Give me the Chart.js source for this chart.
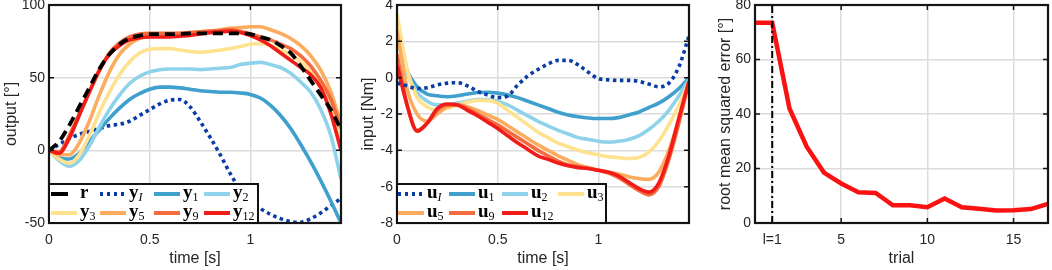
<!DOCTYPE html>
<html>
<head>
<meta charset="utf-8">
<script src="https://cdn.jsdelivr.net/npm/chart.js@4"></script>
<style>
html, body { margin: 0; padding: 0; background: #fff; }
#wrap { position: relative; width: 1052px; height: 270px; overflow: hidden; }
canvas { position: absolute; top: 0; }
.leg { position: absolute; border: 2px solid #111; background: #fff; box-sizing: border-box; font-family: "Liberation Serif", "DejaVu Serif", serif; }
.leg .ln { position: absolute; }
.leg .tx { position: absolute; font-weight: bold; font-size: 19px; line-height: 19px; color: #000; white-space: nowrap; }
.leg sub { font-size: 12px; font-weight: normal; vertical-align: baseline; position: relative; top: 3px; }
</style>
</head>
<body>
<div id="wrap">
  <canvas id="c1" width="345" height="270" style="left:0px"></canvas>
  <canvas id="c2" width="336" height="270" style="left:357px"></canvas>
  <canvas id="c3" width="338" height="270" style="left:714px"></canvas>
</div>
<script>
// valeurs (sortie, entrée, erreur)
const tOut = [0,0.05,0.1,0.15,0.2,0.25,0.3,0.35,0.4,0.45,0.5,0.55,0.6,0.65,0.7,0.75,0.8,0.85,0.9,0.95,1.0,1.05,1.1,1.15,1.2,1.25,1.3,1.35,1.4,1.45];

const r   = [0,6,17,30,43,56,66,73,77,79,80,80,80,80,80.5,80.5,80.5,80.5,80.5,80.5,80,78,76,72,67,58,48,38,28,14];
const yI  = [0,4,8,11,13,15,17,18,20,24,28,32,34.5,35,30,20,9,-3,-16,-27,-34,-40,-44,-47,-49,-49.5,-47,-43,-38,-33];
const y1  = [0,-5,-6,-2,6,14,22,29,35,39,42,43.5,43.5,43,42,41,40.5,40,40,39.5,38.5,36,31,24,15,4,-8,-21,-35,-50];
const y2  = [0,-7,-11,-7,3,16,28,38,46,51,54,55.5,56,56,56,55.5,56,56.5,57,59,60,60.5,59,57,53,47,40,28,10,-20];
const y3  = [0,-6,-9,-3,10,26,40,52,61,67,69.5,70,70,69,68,67.5,68,69,70,71.5,73,73.5,72,69.5,66,61,54,45,30,5];
const y5  = [0,-3,-3,5,20,38,54,66,73,77,79,79.5,80,80.5,81,81.5,82,83,84,84.5,85,85,83,80.5,77,72,65,55,40,18];
const y9  = [0,-1,10,25,40,55,67,74,78,80,80.5,80.5,80.5,80.5,81,81.5,82,82.5,83,82,80,78,76,73,70,65,58,48,35,15];
const y12 = [0,-2,8,24,40,55,66,72,76,77.5,78,78,78,78.5,79,80,81,81.5,82,81,79,76,72,67,62,57,52,43,25,0];

const uI  = [-0.3,-0.45,-0.6,-0.55,-0.4,-0.3,-0.28,-0.45,-0.75,-0.95,-1.1,-1.0,-0.4,0.1,0.45,0.75,0.95,0.95,0.7,0.3,-0.05,-0.12,-0.15,-0.15,-0.2,-0.35,-0.5,-0.3,0.6,2.3];
const u1  = [2.5,0.4,-0.5,-0.9,-1.0,-1.05,-1.0,-0.9,-0.82,-0.8,-0.85,-0.95,-1.1,-1.3,-1.5,-1.7,-1.9,-2.05,-2.15,-2.22,-2.25,-2.25,-2.2,-2.05,-1.9,-1.65,-1.4,-1.05,-0.6,0];
const u2  = [2.8,0.3,-0.8,-1.3,-1.5,-1.5,-1.4,-1.3,-1.2,-1.2,-1.3,-1.5,-1.8,-2.1,-2.4,-2.65,-2.9,-3.1,-3.3,-3.4,-3.5,-3.55,-3.5,-3.4,-3.2,-2.85,-2.4,-1.8,-1.0,-0.1];
const u3  = [3.5,0.5,-1.1,-1.6,-1.8,-1.7,-1.5,-1.35,-1.25,-1.25,-1.4,-1.8,-2.2,-2.6,-3.0,-3.3,-3.6,-3.8,-4.0,-4.15,-4.25,-4.35,-4.4,-4.45,-4.4,-4.1,-3.5,-2.6,-1.5,-0.2];
const u5  = [2.6,-0.6,-2.0,-2.4,-2.0,-1.6,-1.5,-1.6,-1.8,-2.05,-2.3,-2.65,-3.0,-3.35,-3.7,-4.0,-4.3,-4.55,-4.8,-4.95,-5.1,-5.2,-5.3,-5.45,-5.55,-5.6,-5.2,-4.0,-2.3,-0.2];
const u9  = [1.3,-1.5,-2.9,-2.5,-1.8,-1.5,-1.5,-1.7,-2.0,-2.3,-2.6,-2.95,-3.3,-3.65,-4.0,-4.3,-4.6,-4.8,-4.9,-5.0,-5.1,-5.25,-5.5,-5.85,-6.2,-6.45,-6.0,-4.5,-2.5,-0.2];
const u12 = [0.7,-1.5,-2.95,-2.5,-1.7,-1.45,-1.5,-1.8,-2.1,-2.45,-2.8,-3.2,-3.6,-3.95,-4.3,-4.5,-4.7,-4.85,-4.95,-5.0,-5.1,-5.2,-5.4,-5.75,-6.1,-6.3,-5.8,-4.3,-2.2,-0.2];

const trials = [0,1,2,3,4,5,6,7,8,9,10,11,12,13,14,15,16,17];
const rmse   = [73.5,73.5,42,28,18.5,14.5,11.3,11,6.5,6.5,5.8,9,5.8,5.2,4.6,4.7,5.1,7];
const startTrial = [1,1];
const startSpan  = [0,80];

const tTicks = [0,0.5,1];
const outTicks = [-50,0,50,100];
const inTicks = [-8,-6,-4,-2,0,2,4];
const errTicks = [0,20,40,60,80];
const trialTicks = [1,5,10,15];
const trialTickLabels = ['l=1','5','10','15'];

const colI = '#0a3ca6', col1 = '#3f9fcd', col2 = '#8fd3eb', col3 = '#fee28f';
const col5 = '#fcac5e', col9 = '#f46b40', col12 = '#f01c18';

Chart.defaults.font.family = '"Liberation Sans", Arial, sans-serif';
Chart.defaults.color = '#262626';

function pts(xs, ys) {
  return xs.map((x, i) => ({ x: x, y: ys[i] }));
}

function curve(data, color, extra) {
  return Object.assign({
    data: data, borderColor: color, borderWidth: 3.6, pointRadius: 0,
    cubicInterpolationMode: 'monotone', fill: false
  }, extra || {});
}

// cadre noir + petites graduations vers l'intérieur
const frame = {
  id: 'frame',
  afterDraw(chart) {
    const ctx = chart.ctx, a = chart.chartArea, sx = chart.scales.x, sy = chart.scales.y;
    ctx.save();
    ctx.strokeStyle = '#151515';
    ctx.lineWidth = 1.5;
    ctx.beginPath();
    sx.ticks.forEach(t => {
      const p = sx.getPixelForValue(t.value);
      ctx.moveTo(p, a.bottom); ctx.lineTo(p, a.bottom - 5);
      ctx.moveTo(p, a.top); ctx.lineTo(p, a.top + 5);
    });
    sy.ticks.forEach(t => {
      const p = sy.getPixelForValue(t.value);
      ctx.moveTo(a.left, p); ctx.lineTo(a.left + 5, p);
      ctx.moveTo(a.right, p); ctx.lineTo(a.right - 5, p);
    });
    ctx.stroke();
    ctx.lineWidth = 2.2;
    ctx.strokeRect(a.left, a.top, a.right - a.left, a.bottom - a.top);
    ctx.restore();
  }
};

function makeOptions(xMin, xMax, xTicks, xLabels, yMin, yMax, yTicks, yTitle, yWidth) {
  return {
    responsive: false,
    animation: false,
    layout: { padding: { left: 0, right: 4, top: 5, bottom: 0 } },
    plugins: { legend: { display: false }, tooltip: { enabled: false } },
    scales: {
      x: {
        type: 'linear', min: xMin, max: xMax,
        afterBuildTicks: s => { s.ticks = xTicks.map(v => ({ value: v })); },
        afterFit: s => { s.height = 47; s.paddingLeft = 0; s.paddingRight = 0; },
        grid: { color: '#dcdcdc', lineWidth: 1.5, drawTicks: false },
        border: { display: false },
        ticks: {
          padding: 9, font: { size: 14 }, color: '#262626', maxRotation: 0,
          callback: (v, i) => xLabels ? xLabels[i] : v
        },
        title: { display: true, text: 'time [s]', font: { size: 16 }, color: '#262626', padding: { top: 0, bottom: 2 } }
      },
      y: {
        type: 'linear', min: yMin, max: yMax,
        afterBuildTicks: s => { s.ticks = yTicks.map(v => ({ value: v })); },
        afterFit: s => { s.width = yWidth; s.paddingTop = 0; s.paddingBottom = 0; },
        grid: { color: '#dcdcdc', lineWidth: 1.5, drawTicks: false },
        border: { display: false },
        ticks: { padding: 4, font: { size: 14 }, color: '#262626' },
        title: { display: true, text: yTitle, font: { size: 16 }, color: '#262626', padding: { top: 2, bottom: 0 } }
      }
    }
  };
}

// sortie
new Chart(document.getElementById('c1'), {
  type: 'line',
  data: {
    datasets: [
      curve(pts(tOut, r), '#000', { borderDash: [10, 6], borderWidth: 3.8 }),
      curve(pts(tOut, y12), col12),
      curve(pts(tOut, y9), col9),
      curve(pts(tOut, y5), col5),
      curve(pts(tOut, y3), col3),
      curve(pts(tOut, y2), col2),
      curve(pts(tOut, y1), col1),
      curve(pts(tOut, yI), colI, { borderDash: [3.5, 3.5] })
    ]
  },
  options: makeOptions(0, 1.45, tTicks, null, -50, 100, outTicks, 'output [°]', 49),
  plugins: [frame]
});

// entrée
new Chart(document.getElementById('c2'), {
  type: 'line',
  data: {
    datasets: [
      curve(pts(tOut, uI), colI, { borderDash: [3.5, 3.5] }),
      curve(pts(tOut, u12), col12),
      curve(pts(tOut, u9), col9),
      curve(pts(tOut, u5), col5),
      curve(pts(tOut, u3), col3),
      curve(pts(tOut, u2), col2),
      curve(pts(tOut, u1), col1)
    ]
  },
  options: makeOptions(0, 1.45, tTicks, null, -8, 4, inTicks, 'input [Nm]', 40),
  plugins: [frame]
});

// erreur par essai
const opt3 = makeOptions(0, 17, trialTicks, trialTickLabels, 0, 80, errTicks, 'root mean squared error [°]', 41);
opt3.scales.x.title.text = 'trial';
new Chart(document.getElementById('c3'), {
  type: 'line',
  data: {
    datasets: [
      { data: pts(startTrial, startSpan), borderColor: '#000', borderWidth: 2, borderDash: [7, 3, 2, 3], pointRadius: 0 },
      { data: pts(trials, rmse), borderColor: '#fa1212', borderWidth: 4.5, pointRadius: 0, tension: 0 }
    ]
  },
  options: opt3,
  plugins: [frame]
});

// légendes (style MATLAB, dans le cadre)
function sample(kind, color) {
  const d = document.createElement('div');
  d.className = 'ln';
  if (kind === 'dash') {
    d.style.width = '17px'; d.style.height = '4px'; d.style.background = color;
  } else if (kind === 'dot') {
    d.style.width = '26px'; d.style.height = '4px';
    d.style.background = 'repeating-linear-gradient(90deg,' + color + ' 0 3.5px, transparent 3.5px 7px)';
  } else {
    d.style.width = '26px'; d.style.height = '4px'; d.style.background = color;
  }
  return d;
}

function legend(box, cols, rows, items) {
  const el = document.createElement('div');
  el.className = 'leg';
  el.style.left = box[0] + 'px'; el.style.top = box[1] + 'px';
  el.style.width = box[2] + 'px'; el.style.height = box[3] + 'px';
  items.forEach((it, k) => {
    const cx = cols[k % 4], cy = rows[Math.floor(k / 4)];
    const s = sample(it[1], it[2]);
    s.style.left = cx + 'px';
    s.style.top = (cy - 2) + 'px';
    el.appendChild(s);
    const t = document.createElement('div');
    t.className = 'tx';
    t.innerHTML = it[0];
    t.style.left = (cx + 29) + 'px';
    t.style.top = (cy - 12) + 'px';
    el.appendChild(t);
  });
  document.getElementById('wrap').appendChild(el);
}

legend([48, 183, 211, 41], [1, 50, 104, 154], [9, 28], [
  ['r', 'dash', '#000'],
  ['y<sub><i>I</i></sub>', 'dot', colI],
  ['y<sub>1</sub>', 'solid', col1],
  ['y<sub>2</sub>', 'solid', col2],
  ['y<sub>3</sub>', 'solid', col3],
  ['y<sub>5</sub>', 'solid', col5],
  ['y<sub>9</sub>', 'solid', col9],
  ['y<sub>12</sub>', 'solid', col12]
]);

legend([396, 183, 211, 41], [0, 51, 104, 160], [9, 28], [
  ['u<sub><i>I</i></sub>', 'dot', colI],
  ['u<sub>1</sub>', 'solid', col1],
  ['u<sub>2</sub>', 'solid', col2],
  ['u<sub>3</sub>', 'solid', col3],
  ['u<sub>5</sub>', 'solid', col5],
  ['u<sub>9</sub>', 'solid', col9],
  ['u<sub>12</sub>', 'solid', col12]
]);
</script>
</body>
</html>
